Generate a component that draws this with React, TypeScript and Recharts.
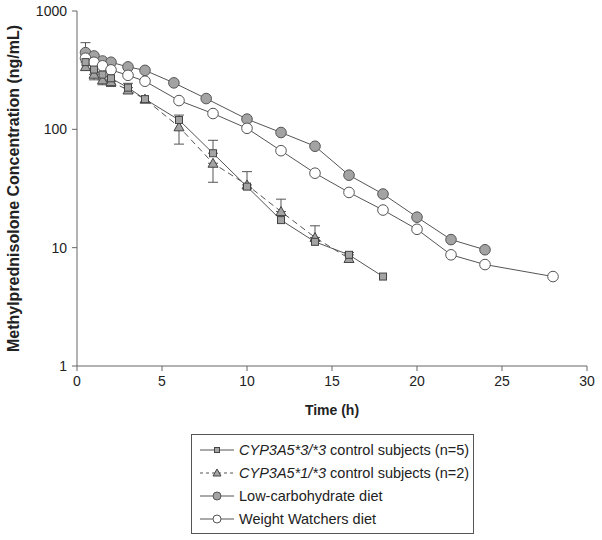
import { LineChart, Line, XAxis, YAxis, ErrorBar, Legend } from 'recharts';

// sampling times (h) and mean concentrations (ng/mL)
const ctrl33Time = [0.5, 1, 1.5, 2, 3, 4, 6, 8, 10, 12, 14, 16, 18];
const ctrl33Conc = [370, 320, 290, 270, 225, 180, 120, 62.8, 32.8, 17.1, 11.2, 8.7, 5.7];
const ctrl33ErrUp = [170, 0, 0, 0, 20, 0, 0, 18, 0, 0, 0, 0.4, 0];

const ctrl13Time = [0.5, 1, 1.5, 2, 3, 4, 6, 8, 10, 12, 14, 16];
const ctrl13Conc = [339, 292, 262, 253, 215, 180, 105, 51.7, 33.9, 20.2, 12.2, 8.1];
const ctrl13ErrDown = [0, 30, 24, 23, 0, 0, 30, 16, 0, 0, 0, 0];
const ctrl13ErrUp = [0, 0, 0, 0, 0, 0, 27, 0, 10, 5.5, 3.1, 0];

const lowCarbTime = [0.5, 1, 1.5, 2, 3, 4, 5.7, 7.6, 10, 12, 14, 16, 18, 20, 22, 24];
const lowCarbConc = [445, 417, 378, 369, 337, 315, 247, 182, 122, 94, 72, 41, 28.4, 18.1, 11.7, 9.6];

const wwTime = [0.5, 1, 1.5, 2, 3, 4, 6, 8, 10, 12, 14, 16, 18, 20, 22, 24, 28];
const wwConc = [399, 369, 344, 318, 286, 255, 175, 136, 102, 66, 42.6, 29.3, 20.8, 14.3, 8.7, 7.2, 5.7];

const xTicks = [0, 5, 10, 15, 20, 25, 30];
const yTicks = [1, 10, 100, 1000];

const ctrl33Data = ctrl33Time.map((t, i) => ({ time: t, conc: ctrl33Conc[i], lo: 0, hi: ctrl33ErrUp[i] }));
const ctrl13Data = ctrl13Time.map((t, i) => ({ time: t, conc: ctrl13Conc[i], lo: ctrl13ErrDown[i], hi: ctrl13ErrUp[i] }));
const lowCarbData = lowCarbTime.map((t, i) => ({ time: t, conc: lowCarbConc[i] }));
const wwData = wwTime.map((t, i) => ({ time: t, conc: wwConc[i] }));

const LINE = '#555';
const MARK_FILL = '#a3a3a3';
const FONT = '"Liberation Sans", Arial, sans-serif';

const errVal = (d: any) => (d.lo || d.hi ? [d.lo, d.hi] : null);

function Square({ cx, cy }: any) {
  return <rect x={cx - 3.5} y={cy - 3.5} width={7} height={7} fill={MARK_FILL} stroke="#444" strokeWidth={1} />;
}

function Triangle({ cx, cy }: any) {
  return (
    <polygon
      points={`${cx},${cy - 5} ${cx - 5},${cy + 4} ${cx + 5},${cy + 4}`}
      fill={MARK_FILL}
      stroke="#444"
      strokeWidth={1}
    />
  );
}

function Circle({ cx, cy, fill }: any) {
  return <circle cx={cx} cy={cy} r={5.3} fill={fill} stroke={LINE} strokeWidth={1} />;
}

function LegendBox() {
  const rows = [
    { italic: 'CYP3A5*3/*3', text: ' control subjects (n=5)', dash: undefined, mark: 'sq' },
    { italic: 'CYP3A5*1/*3', text: ' control subjects (n=2)', dash: '3 3', mark: 'tri' },
    { italic: '', text: 'Low-carbohydrate diet', dash: undefined, mark: 'fc' },
    { italic: '', text: 'Weight Watchers diet', dash: undefined, mark: 'oc' },
  ];
  return (
    <div
      style={{
        border: '1px solid #555',
        width: 281,
        height: 95,
        boxSizing: 'content-box',
        fontFamily: FONT,
        fontSize: 14.5,
        color: '#222',
        paddingTop: 3,
      }}
    >
      {rows.map((r) => (
        <div key={r.text + r.italic} style={{ display: 'flex', alignItems: 'center', height: 23, whiteSpace: 'nowrap' }}>
          <svg width={40} height={14} style={{ marginLeft: 7, flexShrink: 0 }}>
            <line x1={1} y1={7} x2={35} y2={7} stroke={LINE} strokeWidth={1} strokeDasharray={r.dash} />
            {r.mark === 'sq' && <rect x={15.5} y={4.5} width={5} height={5} fill={MARK_FILL} stroke="#444" />}
            {r.mark === 'tri' && <polygon points="18,3 14,10 22,10" fill={MARK_FILL} stroke="#444" />}
            {r.mark === 'fc' && <circle cx={18} cy={7} r={4} fill={MARK_FILL} stroke={LINE} />}
            {r.mark === 'oc' && <circle cx={18} cy={7} r={4} fill="#fff" stroke={LINE} />}
          </svg>
          <span>
            {r.italic && <i>{r.italic}</i>}
            {r.text}
          </span>
        </div>
      ))}
    </div>
  );
}

export default function App() {
  return (
    <div style={{ position: 'absolute', left: 0, top: 0, background: '#fff' }}>
      <LineChart width={602} height={540} margin={{ top: 11, right: 15, bottom: 119, left: 0 }} style={{ fontFamily: FONT }}>
        <XAxis
          type="number"
          dataKey="time"
          domain={[0, 30]}
          ticks={xTicks}
          allowDataOverflow
          stroke="#666"
          tick={{ fill: '#222', fontSize: 14 }}
          tickSize={5}
          tickMargin={5}
          height={55}
          label={{ value: 'Time (h)', position: 'insideBottom', offset: 6, style: { fontWeight: 'bold', fontSize: 14, fill: '#222' } }}
        />
        <YAxis
          type="number"
          scale="log"
          domain={[1, 1000]}
          ticks={yTicks}
          allowDataOverflow
          stroke="#666"
          tick={{ fill: '#222', fontSize: 14 }}
          tickSize={5}
          tickMargin={5}
          width={77}
          label={{
            value: 'Methylprednisolone Concentration (ng/mL)',
            angle: -90,
            position: 'insideLeft',
            offset: 13,
            style: { fontWeight: 'bold', fontSize: 16, fill: '#222', textAnchor: 'middle' },
          }}
        />
        <Legend
          layout="vertical"
          align="center"
          verticalAlign="middle"
          wrapperStyle={{ left: 191, top: 434, width: 283, height: 100 }}
          content={() => <LegendBox />}
        />
        <Line
          data={lowCarbData}
          dataKey="conc"
          name="Low-carbohydrate diet"
          stroke={LINE}
          strokeWidth={1}
          isAnimationActive={false}
          dot={(p: any) => <Circle key={`lc${p.index}`} cx={p.cx} cy={p.cy} fill={MARK_FILL} />}
        />
        <Line
          data={wwData}
          dataKey="conc"
          name="Weight Watchers diet"
          stroke={LINE}
          strokeWidth={1}
          isAnimationActive={false}
          dot={(p: any) => <Circle key={`ww${p.index}`} cx={p.cx} cy={p.cy} fill="#fff" />}
        />
        <Line
          data={ctrl13Data}
          dataKey="conc"
          name="CYP3A5*1/*3 control subjects (n=2)"
          stroke={LINE}
          strokeWidth={1}
          strokeDasharray="6 4"
          isAnimationActive={false}
          dot={(p: any) => <Triangle key={`t${p.index}`} cx={p.cx} cy={p.cy} />}
        >
          <ErrorBar dataKey={errVal} width={5} stroke={LINE} strokeWidth={1} />
        </Line>
        <Line
          data={ctrl33Data}
          dataKey="conc"
          name="CYP3A5*3/*3 control subjects (n=5)"
          stroke={LINE}
          strokeWidth={1}
          isAnimationActive={false}
          dot={(p: any) => <Square key={`s${p.index}`} cx={p.cx} cy={p.cy} />}
        >
          <ErrorBar dataKey={errVal} width={5} stroke={LINE} strokeWidth={1} />
        </Line>
      </LineChart>
    </div>
  );
}
